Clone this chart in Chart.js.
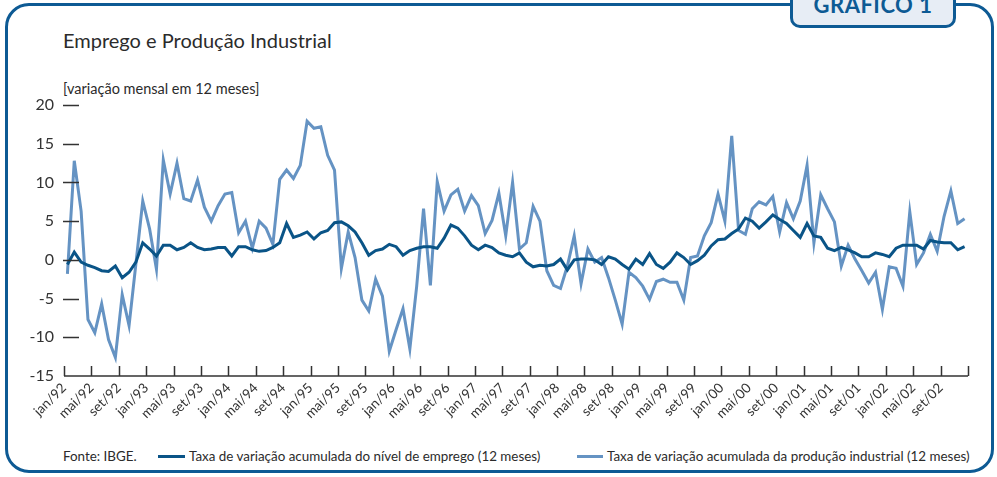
<!DOCTYPE html>
<html>
<head>
<meta charset="utf-8">
<script src="https://cdn.jsdelivr.net/npm/chart.js@4.4.0/dist/chart.umd.min.js"></script>
<style>
  body { margin: 0; background: #fff; font-family: Lato, sans-serif; color: #2b2b2b; }
  #wrap { position: relative; width: 997px; height: 477px; overflow: hidden; }
  #frame { position: absolute; left: 5px; top: 3px; width: 989px; height: 470px; box-sizing: border-box;
           border: 3px solid #0d5a94; border-radius: 24px; }
  #tab { position: absolute; left: 790px; top: -14px; width: 166px; height: 42px; box-sizing: border-box;
         border: 3px solid #0d5a94; border-radius: 0 0 10px 10px; background: #e7edf5; }
  #tabtxt { position: absolute; left: 790px; width: 166px; top: -6px; text-align: center; color: #0d5a94;
            font-weight: bold; font-size: 22px; line-height: 22px; letter-spacing: 0.5px; }
  .txt { position: absolute; white-space: nowrap; }
  #title { left: 63px; top: 30px; font-size: 20px; line-height: 20px; }
  #sub { left: 63px; top: 81px; font-size: 14.5px; line-height: 15px; }
  #fonte { left: 63px; top: 450px; font-size: 13.4px; line-height: 13px; }
  .leg { top: 450px; font-size: 13.4px; line-height: 13px; }
  .swatch { position: absolute; top: 455px; height: 3px; }
  canvas { position: absolute; left: 0; top: 0; }
</style>
</head>
<body>
<div id="wrap">
  <div id="frame"></div>
  <div id="tab"></div>
  <div id="tabtxt">GRÁFICO 1</div>
  <div class="txt" id="title">Emprego e Produção Industrial</div>
  <div class="txt" id="sub">[variação mensal em 12 meses]</div>
  <div class="txt" id="fonte">Fonte: IBGE.</div>
  <div class="swatch" style="left:158px;width:27px;background:#0a5487"></div>
  <div class="txt leg" style="left:189px">Taxa de variação acumulada do nível de emprego (12 meses)</div>
  <div class="swatch" style="left:577px;width:26px;background:#6593c3"></div>
  <div class="txt leg" style="left:607px">Taxa de variação acumulada da produção industrial (12 meses)</div>
  <canvas id="myChart" width="997" height="477"></canvas>
</div>
<script>
// tick labels every 4 months, jan/92 .. set/02
const tickLabels = [
  'jan/92', 'mai/92', 'set/92', 'jan/93', 'mai/93', 'set/93', 'jan/94', 'mai/94', 'set/94',
  'jan/95', 'mai/95', 'set/95', 'jan/96', 'mai/96', 'set/96', 'jan/97', 'mai/97', 'set/97',
  'jan/98', 'mai/98', 'set/98', 'jan/99', 'mai/99', 'set/99', 'jan/00', 'mai/00', 'set/00',
  'jan/01', 'mai/01', 'set/01', 'jan/02', 'mai/02', 'set/02'
];

// monthly values, jan/92 .. dez/02 (132 months)
const emprego = [
  -0.6, 1.0, -0.3, -0.7, -1.0, -1.4, -1.5, -0.8, -2.3, -1.6, -0.3, 2.2,
  1.4, 0.5, 1.9, 1.9, 1.3, 1.6, 2.2, 1.6, 1.3, 1.4, 1.6, 1.6,
  0.5, 1.7, 1.7, 1.3, 1.1, 1.2, 1.6, 2.2, 4.7, 2.9, 3.2, 3.6,
  2.7, 3.5, 3.8, 4.8, 4.9, 4.4, 3.6, 2.2, 0.6, 1.2, 1.4, 2.0,
  1.7, 0.6, 1.2, 1.5, 1.7, 1.7, 1.5, 2.8, 4.5, 4.1, 3.1, 1.9,
  1.3, 1.9, 1.6, 0.9, 0.6, 0.4, 0.9, -0.3, -0.9, -0.7, -0.8, -0.6,
  0.1, -1.3, 0.0, 0.1, 0.1, 0.0, -0.6, 0.4, 0.1, -0.6, -1.2, 0.1,
  -0.6, 0.8, -0.6, -1.1, -0.3, 0.9, 0.3, -0.6, -0.1, 0.6, 1.8, 2.6,
  2.7, 3.4, 4.0, 5.4, 5.0, 4.1, 4.9, 5.8, 5.2, 4.7, 3.8, 2.9,
  4.7, 3.1, 2.9, 1.5, 1.2, 1.6, 1.3, 0.9, 0.4, 0.4, 0.9, 0.7,
  0.4, 1.5, 1.9, 1.9, 1.9, 1.4, 2.5, 2.3, 2.2, 2.2, 1.3, 1.7
];

const producao = [
  -1.8, 12.8, 6.3, -7.7, -9.4, -5.7, -10.3, -12.6, -4.5, -8.5, -0.5, 7.6,
  4.0, -1.2, 12.9, 8.5, 12.5, 7.9, 7.6, 10.3, 6.8, 5.0, 7.0, 8.5,
  8.7, 3.5, 5.0, 1.5, 5.0, 4.1, 2.0, 10.4, 11.6, 10.5, 12.2, 17.9,
  17.0, 17.2, 13.5, 11.6, -1.1, 3.6, 0.3, -5.2, -6.6, -2.5, -4.7, -11.8,
  -9.0, -6.3, -11.5, -3.4, 6.6, -3.3, 10.1, 6.3, 8.4, 9.1, 6.3, 8.3,
  7.0, 3.4, 5.1, 8.6, 3.1, 10.0, 1.4, 2.2, 6.9, 5.0, -1.4, -3.3,
  -3.7, -0.8, 3.1, -3.1, 1.4, -0.3, 0.3, -2.3, -5.2, -8.3, -1.6, -2.3,
  -3.4, -5.1, -2.8, -2.5, -2.9, -2.9, -5.2, 0.3, 0.5, 3.1, 4.8, 8.5,
  5.0, 16.0, 3.8, 3.3, 6.6, 7.5, 7.1, 8.2, 3.6, 7.4, 5.3, 7.6,
  12.2, 2.2, 8.4, 6.6, 4.9, -0.8, 1.9, 0.1, -1.4, -3.0, -1.6, -6.4,
  -0.9, -1.1, -3.4, 6.2, -0.6, 0.9, 3.3, 1.1, 5.6, 8.9, 4.7, 5.3
];

const darkBlue = '#0a5487';
const lightBlue = '#6593c3';
const axisColor = '#333333';

// points sit in the middle of each month
function toPoints(values) {
  return values.map((v, i) => ({ x: i + 0.5, y: v }));
}

// axis line, inward x ticks and short y dashes
const axisMarks = {
  id: 'axisMarks',
  afterDraw(chart) {
    const ctx = chart.ctx;
    const xs = chart.scales.x;
    const ys = chart.scales.y;
    const bottom = ys.getPixelForValue(-15);
    const left = xs.getPixelForValue(0);
    ctx.save();
    ctx.strokeStyle = axisColor;
    ctx.lineWidth = 1.5;
    ctx.beginPath();
    ctx.moveTo(left, bottom);
    ctx.lineTo(xs.getPixelForValue(132), bottom);
    for (let v = 0; v <= 132; v += 4) {
      const px = Math.round(xs.getPixelForValue(v)) + 0.5;
      ctx.moveTo(px, bottom);
      ctx.lineTo(px, bottom - 10);
    }
    for (let v = -10; v <= 20; v += 5) {
      const py = Math.round(ys.getPixelForValue(v)) + 0.5;
      ctx.moveTo(left - 1, py);
      ctx.lineTo(left + 15, py);
    }
    ctx.stroke();
    ctx.restore();
  }
};

new Chart(document.getElementById('myChart'), {
  type: 'line',
  data: {
    datasets: [
      {
        label: 'Taxa de variação acumulada do nível de emprego (12 meses)',
        data: toPoints(emprego),
        borderColor: darkBlue,
        borderWidth: 3,
        pointRadius: 0,
        tension: 0
      },
      {
        label: 'Taxa de variação acumulada da produção industrial (12 meses)',
        data: toPoints(producao),
        borderColor: lightBlue,
        borderWidth: 3,
        pointRadius: 0,
        tension: 0
      }
    ]
  },
  options: {
    responsive: false,
    animation: false,
    devicePixelRatio: 1,
    layout: { padding: { top: 105, right: 29, left: 0, bottom: 0 } },
    plugins: {
      legend: { display: false },
      tooltip: { enabled: false }
    },
    scales: {
      x: {
        type: 'linear',
        min: 0,
        max: 132,
        afterFit: scale => { scale.height = 101; },
        afterBuildTicks: scale => {
          scale.ticks = [];
          for (let v = 0; v <= 132; v += 4) scale.ticks.push({ value: v });
        },
        grid: { display: false, drawTicks: false },
        border: { display: false },
        ticks: {
          autoSkip: false,
          maxRotation: 45,
          minRotation: 45,
          padding: 4,
          color: axisColor,
          font: { family: 'Lato', size: 13.5 },
          callback: v => tickLabels[v / 4] || ''
        }
      },
      y: {
        min: -15,
        max: 20,
        afterFit: scale => { scale.width = 64; },
        grid: { display: false, drawTicks: false },
        border: { display: false },
        ticks: {
          stepSize: 5,
          padding: 10,
          color: axisColor,
          font: { family: 'Lato', size: 16 }
        }
      }
    }
  },
  plugins: [axisMarks]
});
</script>
</body>
</html>
